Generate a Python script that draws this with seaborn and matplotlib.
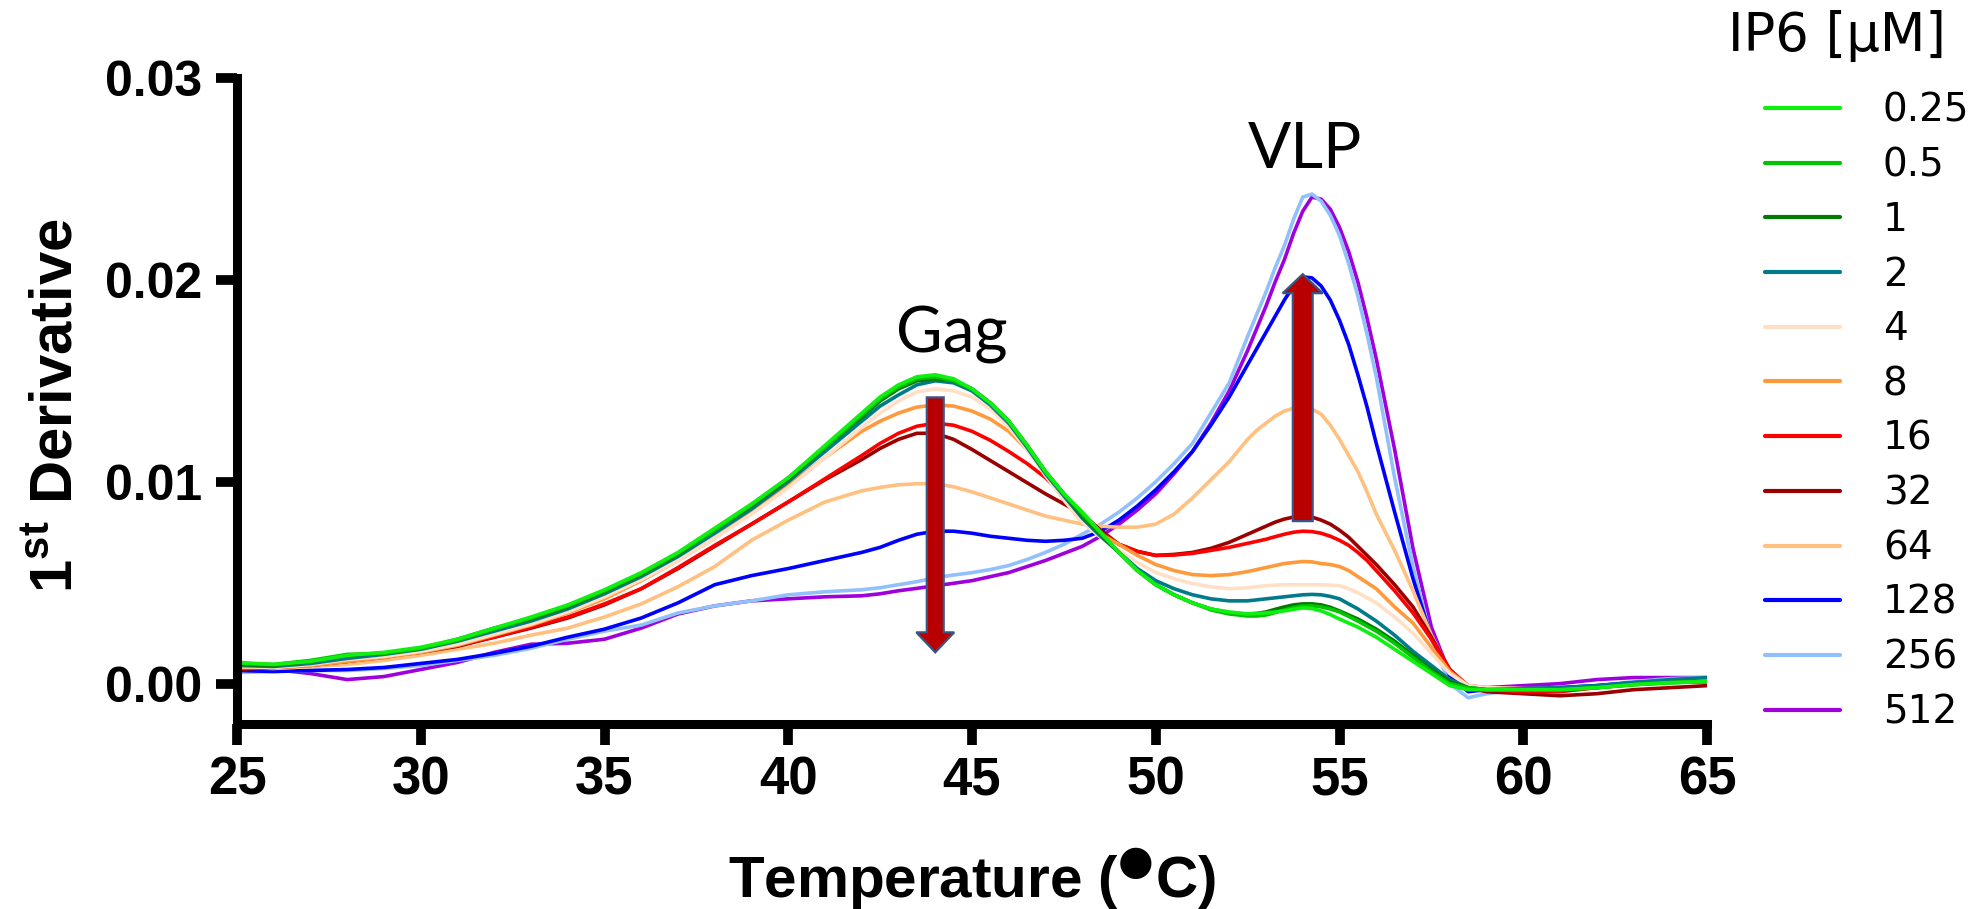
import numpy as np
import pandas as pd
import matplotlib
matplotlib.use("Agg")
import matplotlib.pyplot as plt
from matplotlib.patches import FancyArrow
from matplotlib.lines import Line2D
import seaborn as sns

# Temperature grid (deg C) of the first-derivative melt curves
temperature = [25, 26, 27, 28, 29, 30, 31, 32, 33, 34, 35, 36, 37, 38, 39, 40, 41, 42,
               42.5, 43, 43.5, 44, 44.5, 45, 45.5, 46, 46.5, 47, 47.5, 48, 48.5, 49, 49.5,
               50, 50.5, 51, 51.5, 52,
               52.5, 52.75, 53, 53.25, 53.5, 53.75, 54, 54.25, 54.5, 54.75, 55, 55.25, 55.5,
               55.75, 56,
               56.5, 57, 57.5, 58, 58.5, 59,
               60, 61, 62, 63, 64, 65]

# IP6 concentrations (uM) and line colours
ip6_conc = ["0.25", "0.5", "1", "2", "4", "8", "16", "32", "64", "128", "256", "512"]
line_colors = ["#10F010", "#00C400", "#007A00", "#007B8A", "#FFE0C6", "#FF9A3C",
               "#FF0000", "#9B0000", "#FFC080", "#0000FF", "#91C0FA", "#A000DC"]

# First derivative values, in units of 1e-3
d_025 = [1.05, 0.95, 1.10, 1.40, 1.55, 1.80, 2.20, 2.75, 3.30, 3.90, 4.65, 5.50, 6.50, 7.70, 8.90, 10.20, 11.80, 13.40,
         14.2, 14.8, 15.2, 15.3, 15.1, 14.6, 13.9, 13.0, 11.8, 10.5, 9.4, 8.5, 7.5, 6.5, 5.6, 4.9, 4.4, 4.0, 3.7, 3.55,
         3.45, 3.47, 3.5, 3.55, 3.6, 3.68, 3.75, 3.72, 3.6, 3.42, 3.2, 3.0, 2.8, 2.55, 2.3,
         1.7, 1.1, 0.5, -0.1, -0.3, -0.3,
         -0.3, -0.3, -0.2, -0.05, 0.05, 0.1]
d_05 = [1.00, 0.95, 1.15, 1.45, 1.50, 1.75, 2.15, 2.70, 3.25, 3.85, 4.60, 5.45, 6.45, 7.60, 8.85, 10.20, 11.70, 13.30,
        14.1, 14.7, 15.1, 15.2, 15.0, 14.6, 13.9, 13.0, 11.8, 10.5, 9.4, 8.4, 7.45, 6.5, 5.6, 4.9, 4.4, 4.0, 3.65, 3.45,
        3.35, 3.35, 3.4, 3.52, 3.65, 3.77, 3.85, 3.85, 3.8, 3.7, 3.55, 3.33, 3.1, 2.85, 2.6,
        2.0, 1.3, 0.6, 0.0, -0.2, -0.3,
        -0.3, -0.3, -0.2, -0.05, 0.05, 0.1]
d_1 = [0.95, 0.90, 1.10, 1.40, 1.50, 1.75, 2.20, 2.75, 3.20, 3.80, 4.55, 5.40, 6.40, 7.60, 8.80, 10.10, 11.70, 13.20,
       14.0, 14.6, 15.0, 15.1, 15.0, 14.6, 13.9, 13.0, 11.8, 10.5, 9.4, 8.3, 7.4, 6.5, 5.6, 4.9, 4.4, 4.0, 3.7, 3.5,
       3.45, 3.48, 3.55, 3.68, 3.8, 3.9, 3.95, 3.95, 3.9, 3.78, 3.6, 3.4, 3.2, 2.95, 2.7,
       2.1, 1.4, 0.7, 0.1, -0.2, -0.3,
       -0.3, -0.3, -0.2, -0.05, 0.05, 0.1]
d_2 = [0.90, 0.85, 1.00, 1.25, 1.45, 1.70, 2.10, 2.60, 3.10, 3.70, 4.45, 5.30, 6.30, 7.45, 8.65, 10.00, 11.50, 13.00,
       13.75, 14.3, 14.8, 15.0, 14.9, 14.5, 13.8, 12.9, 11.7, 10.4, 9.3, 8.2, 7.3, 6.5, 5.7, 5.1, 4.7, 4.4, 4.2, 4.1,
       4.1, 4.15, 4.2, 4.25, 4.3, 4.35, 4.4, 4.42, 4.4, 4.32, 4.2, 3.95, 3.7, 3.4, 3.1,
       2.4, 1.6, 0.9, 0.2, -0.2, -0.3,
       -0.25, -0.2, -0.1, 0.05, 0.2, 0.3]
d_4 = [0.85, 0.80, 0.95, 1.20, 1.35, 1.60, 1.95, 2.45, 2.95, 3.55, 4.30, 5.15, 6.10, 7.20, 8.40, 9.70, 11.20, 12.70,
       13.4, 14.0, 14.45, 14.6, 14.5, 14.2, 13.6, 12.7, 11.6, 10.3, 9.1, 8.0, 7.25, 6.6, 6.0, 5.5, 5.2, 4.95, 4.8, 4.7,
       4.75, 4.8, 4.85, 4.88, 4.9, 4.9, 4.9, 4.9, 4.9, 4.88, 4.85, 4.7, 4.5, 4.25, 4.0,
       3.3, 2.5, 1.5, 0.5, -0.1, -0.2,
       -0.25, -0.25, -0.15, 0.0, 0.1, 0.15]
d_8 = [0.80, 0.80, 0.90, 1.10, 1.30, 1.55, 1.90, 2.40, 2.90, 3.50, 4.20, 5.10, 6.10, 7.20, 8.50, 9.80, 11.20, 12.50,
       13.0, 13.4, 13.7, 13.8, 13.75, 13.5, 13.1, 12.5, 11.6, 10.4, 9.1, 8.0, 7.4, 6.9, 6.35, 5.9, 5.6, 5.4, 5.35, 5.4,
       5.55, 5.65, 5.75, 5.85, 5.95, 6.0, 6.05, 6.03, 5.95, 5.9, 5.8, 5.6, 5.3, 5.0, 4.7,
       3.8, 3.0, 1.8, 0.6, -0.1, -0.2,
       -0.25, -0.25, -0.15, 0.0, 0.1, 0.15]
d_16 = [0.75, 0.80, 0.90, 1.10, 1.30, 1.60, 1.90, 2.30, 2.80, 3.30, 3.95, 4.70, 5.75, 6.85, 7.90, 9.00, 10.15, 11.30,
        11.9, 12.4, 12.75, 12.9, 12.8, 12.5, 12.05, 11.5, 10.9, 10.2, 9.3, 8.3, 7.5, 6.9, 6.55, 6.35, 6.37, 6.45, 6.6, 6.75,
        6.95, 7.05, 7.15, 7.28, 7.4, 7.5, 7.55, 7.53, 7.45, 7.3, 7.1, 6.85, 6.5, 6.1, 5.6,
        4.6, 3.5, 2.2, 0.7, -0.1, -0.3,
        -0.4, -0.4, -0.2, 0.0, 0.1, 0.1]
d_32 = [0.70, 0.80, 0.95, 1.10, 1.35, 1.55, 1.85, 2.30, 2.75, 3.25, 3.90, 4.70, 5.70, 6.80, 7.90, 9.00, 10.10, 11.10,
        11.65, 12.1, 12.4, 12.4, 12.1, 11.6, 11.05, 10.5, 9.95, 9.4, 8.9, 8.4, 7.6, 6.9, 6.55, 6.35, 6.4, 6.5, 6.7, 7.0,
        7.4, 7.6, 7.8, 8.0, 8.15, 8.25, 8.3, 8.25, 8.1, 7.9, 7.6, 7.25, 6.8, 6.35, 5.9,
        4.9, 3.8, 2.3, 0.7, -0.2, -0.4,
        -0.5, -0.6, -0.5, -0.3, -0.2, -0.1]
d_64 = [0.80, 0.75, 0.85, 0.95, 1.15, 1.40, 1.70, 2.00, 2.40, 2.75, 3.30, 3.95, 4.80, 5.80, 7.10, 8.10, 9.00, 9.55,
        9.72, 9.85, 9.9, 9.9, 9.75, 9.5, 9.2, 8.9, 8.6, 8.3, 8.1, 7.9, 7.8, 7.75, 7.75, 7.9, 8.4, 9.2, 10.1, 11.0,
        12.1, 12.55, 12.9, 13.25, 13.5, 13.65, 13.7, 13.6, 13.35, 12.8, 12.1, 11.3, 10.5, 9.5, 8.4,
        6.6, 4.6, 2.4, 0.6, -0.2, -0.3,
        -0.3, -0.3, -0.2, 0.0, 0.1, 0.15]
d_128 = [0.65, 0.60, 0.65, 0.70, 0.80, 1.00, 1.20, 1.50, 1.85, 2.30, 2.70, 3.25, 4.00, 4.90, 5.35, 5.70, 6.10, 6.50,
         6.75, 7.1, 7.4, 7.55, 7.55, 7.45, 7.3, 7.2, 7.1, 7.05, 7.1, 7.2, 7.55, 8.1, 8.8, 9.6, 10.5, 11.5, 12.8, 14.2,
         15.8, 16.6, 17.4, 18.2, 19.0, 19.7, 20.15, 20.1, 19.7, 19.0, 18.0, 16.8, 15.3, 13.7, 11.9,
         8.5, 5.2, 2.3, 0.4, -0.4, -0.3,
         -0.25, -0.2, -0.1, 0.05, 0.15, 0.2]
d_256 = [0.55, 0.60, 0.65, 0.65, 0.75, 0.90, 1.15, 1.40, 1.75, 2.20, 2.60, 2.90, 3.50, 3.85, 4.10, 4.40, 4.55, 4.65,
         4.75, 4.9, 5.05, 5.25, 5.38, 5.5, 5.65, 5.85, 6.15, 6.5, 6.9, 7.4, 7.9, 8.5, 9.2, 10.0, 10.9, 11.9, 13.4, 14.9,
         17.2, 18.3, 19.4, 20.6, 21.7, 23.0, 24.1, 24.25, 23.9, 23.2, 22.2, 20.8, 19.2, 17.3, 15.2,
         10.2, 5.8, 2.2, 0.0, -0.7, -0.5,
         -0.3, -0.2, -0.1, 0.1, 0.25, 0.3]
d_512 = [0.75, 0.70, 0.50, 0.20, 0.35, 0.70, 1.05, 1.55, 1.95, 2.00, 2.20, 2.75, 3.45, 3.85, 4.10, 4.20, 4.30, 4.35,
         4.45, 4.6, 4.72, 4.85, 4.97, 5.1, 5.3, 5.5, 5.8, 6.1, 6.45, 6.8, 7.3, 7.9, 8.6, 9.4, 10.4, 11.5, 12.9, 14.5,
         16.5, 17.6, 18.7, 19.9, 21.0, 22.3, 23.4, 24.1, 24.0, 23.5, 22.6, 21.4, 19.9, 18.1, 16.1,
         11.6, 6.7, 2.8, 0.5, -0.1, -0.2,
         -0.1, 0.0, 0.2, 0.3, 0.3, 0.3]

series = [d_025, d_05, d_1, d_2, d_4, d_8, d_16, d_32, d_64, d_128, d_256, d_512]

x_ticks = [25, 30, 35, 40, 45, 50, 55, 60, 65]
y_ticks = [0.00, 0.01, 0.02, 0.03]

# Long-form table for seaborn
frames = []
for conc, vals in zip(ip6_conc, series):
    assert len(vals) == len(temperature), conc
    frames.append(pd.DataFrame({"Temperature": temperature,
                                "Derivative": np.asarray(vals) * 1e-3,
                                "IP6": conc}))
data = pd.concat(frames, ignore_index=True)
palette = dict(zip(ip6_conc, line_colors))

sns.set_style("ticks")
plt.rcParams.update({
    "font.family": ["Liberation Sans", "DejaVu Sans"],
    "mathtext.fontset": "custom",
    "mathtext.rm": "DejaVu Sans",
    "mathtext.bf": "Liberation Sans:bold",
    "text.color": "black",
    "axes.labelcolor": "black",
    "xtick.color": "black",
    "ytick.color": "black",
})

W, H = 1980, 909
fig = plt.figure(figsize=(W / 100, H / 100), dpi=100)
ax = fig.add_axes([237 / W, 1 - 724 / H, 1470 / W, 646 / H])

# Low concentrations drawn last so they sit on top
sns.lineplot(data=data, x="Temperature", y="Derivative", hue="IP6",
             hue_order=ip6_conc[::-1], palette=palette, estimator=None,
             sort=False, linewidth=2.6, legend=False, ax=ax)
for ln in ax.get_lines():
    ln.set_solid_joinstyle("round")

ax.set_xlim(25, 65)
ax.set_ylim(-0.002, 0.03)
ax.set_xticks(x_ticks)
ax.set_yticks(y_ticks)
ax.set_yticklabels([f"{v:.2f}" for v in y_ticks])
sns.despine(ax=ax)
for side in ("left", "bottom"):
    ax.spines[side].set_linewidth(6.5)
    ax.spines[side].set_color("black")
ax.tick_params(axis="both", direction="out", length=15, width=7, color="black")
ax.tick_params(axis="x", labelsize=38, pad=8)
ax.tick_params(axis="y", labelsize=36, pad=10)
for lab in ax.get_xticklabels() + ax.get_yticklabels():
    lab.set_fontweight("bold")

ax.set_xlabel(r"Temperature ($^{●}$C)", fontsize=42, fontweight="bold")
ax.xaxis.set_label_coords(0.5, -0.268)
ax.xaxis.label.set_va("baseline")
ax.set_ylabel(r"1$^{\mathbf{st}}$ Derivative", fontsize=43, fontweight="bold")
ax.yaxis.set_label_coords(-0.1231, 0.4923)
ax.yaxis.label.set_va("center")

# Peak annotations
ax.text(44.46, 0.01638, "Gag", family="Lato", fontsize=46, ha="center", va="baseline")
ax.text(54.06, 0.02554, "VLP", family="Lato", fontsize=46, ha="center", va="baseline")

arrow_fc, arrow_ec = "#B90000", "#3A5583"
ax.add_patch(FancyArrow(44.0, 0.01418, 0, 0.00155 - 0.01418, width=0.46, head_width=1.03,
                        head_length=0.00099, length_includes_head=True,
                        fc=arrow_fc, ec=arrow_ec, lw=1.6, zorder=5))
ax.add_patch(FancyArrow(54.0, 0.00805, 0, 0.02028 - 0.00805, width=0.54, head_width=1.09,
                        head_length=0.00094, length_includes_head=True,
                        fc=arrow_fc, ec=arrow_ec, lw=1.6, zorder=5))

# Legend
handles = [Line2D([], [], color=c, lw=3) for c in line_colors]
ax.legend(handles, ip6_conc, loc="upper left",
          bbox_to_anchor=(1765 / W, 1 - 91.4 / H), bbox_transform=fig.transFigure,
          frameon=False, borderpad=0, borderaxespad=0, handlelength=1.93,
          handletextpad=1.1, labelspacing=0.43,
          prop={"family": "DejaVu Sans", "size": 28})
fig.text(1837 / W, 1 - 51 / H, "IP6 [µM]", ha="center", va="baseline",
         family="DejaVu Sans", fontsize=38)

fig.savefig("out.png", dpi=100)
